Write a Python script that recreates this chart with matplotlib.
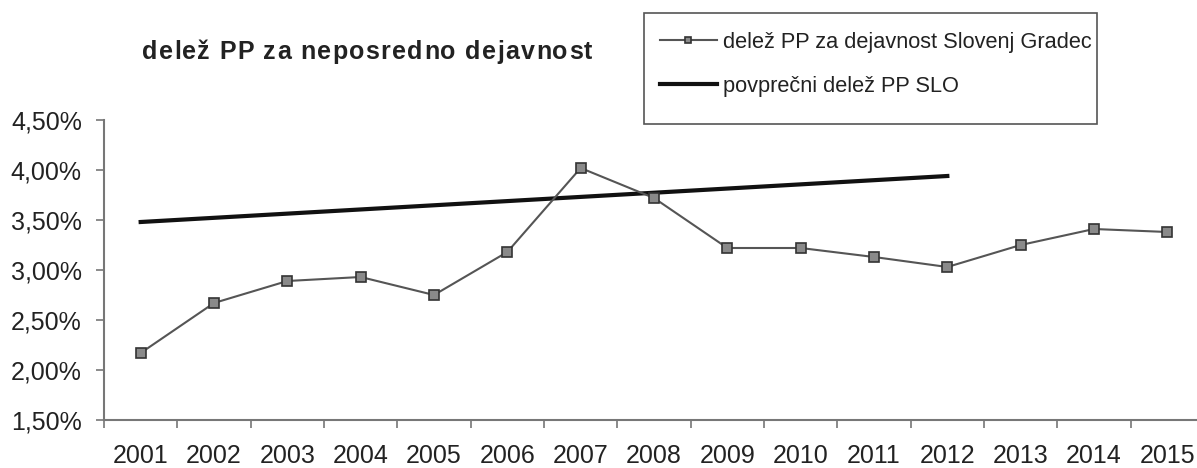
import matplotlib
matplotlib.use("Agg")
import matplotlib.pyplot as plt
from matplotlib.patches import Rectangle
from matplotlib.ticker import FixedLocator, FuncFormatter

years = [2001, 2002, 2003, 2004, 2005, 2006, 2007, 2008, 2009, 2010, 2011, 2012, 2013, 2014, 2015]
sg_values = [2.17, 2.67, 2.89, 2.93, 2.75, 3.18, 4.02, 3.72, 3.22, 3.22, 3.13, 3.03, 3.25, 3.41, 3.38]
avg_years = [2001, 2012]
avg_values = [3.48, 3.94]
y_ticks = [1.5, 2.0, 2.5, 3.0, 3.5, 4.0, 4.5]

title = "delež PP za neposredno dejavnost"
label_sg = "delež PP za dejavnost Slovenj Gradec"
label_avg = "povprečni delež PP SLO"

plt.rcParams['font.family'] = ['Liberation Sans', 'DejaVu Sans']

fig = plt.figure(figsize=(11.97, 4.68), dpi=100)
W, H = 1197, 468
left, right = 104, 1204
top, bottom = 120, 420
ax = fig.add_axes([left / W, 1 - bottom / H, (right - left) / W, (bottom - top) / H])

ax.plot(years, sg_values, color='#555555', lw=1.5, marker='s', markersize=7.2,
        markerfacecolor='#8a8a8a', markeredgecolor='#333333', markeredgewidth=1.2,
        label=label_sg, zorder=3)
ax.plot(avg_years, avg_values, color='#111111', lw=3, label=label_avg, zorder=2)

ax.set_xlim(years[0] - 0.5, years[-1] + 0.5)
ax.set_ylim(1.5, 4.5)
ax.yaxis.set_major_locator(FixedLocator(y_ticks))
ax.yaxis.set_major_formatter(FuncFormatter(lambda v, p: f"{v:.2f}%".replace('.', ',')))
ax.set_xticks(years)
ax.set_xticklabels([str(y) for y in years])
ax.set_xticks([y + 0.5 for y in years[:-1]] + [years[0] - 0.5], minor=True)
ax.tick_params(axis='x', which='major', length=0, labelsize=18, pad=17, colors='#222222')
ax.tick_params(axis='x', which='minor', length=6, width=1.2, color='#777777')
ax.tick_params(axis='y', which='major', length=6, width=1.2, color='#777777', labelsize=18,
               pad=10, labelcolor='#222222')

for s in ['top', 'right']:
    ax.spines[s].set_visible(False)
for s in ['left', 'bottom']:
    ax.spines[s].set_color('#777777')
    ax.spines[s].set_linewidth(1.5)

# Title with slight letter spacing
renderer = fig.canvas.get_renderer()
def text_width(s):
    t = fig.text(0, 0, s + "|", fontsize=18, fontweight='bold')
    w = t.get_window_extent(renderer).width
    t.remove()
    return w
bar_w = text_width("")
spacing = 1.3
x0 = 142
for i, ch in enumerate(title):
    xpos = x0 + (text_width(title[:i]) - bar_w) + i * spacing
    fig.text(xpos / W, 1 - 52 / H, ch, fontsize=18, fontweight='bold', color='#222222',
             va='center', ha='left')

# Legend frame drawn manually, legend entries without frame
fig.patches.append(Rectangle((644 / W, 1 - 124 / H), (1097 - 644) / W, (124 - 13) / H,
                             transform=fig.transFigure, fill=False,
                             edgecolor='#555555', linewidth=1.2))
leg = fig.legend(loc='upper left', bbox_to_anchor=(660 / W, 1 - 32 / H), fontsize=15.7,
                 frameon=False, handlelength=2.6, handletextpad=0.27, labelspacing=1.05,
                 borderpad=0, borderaxespad=0, markerscale=0.6)
for t in leg.get_texts():
    t.set_color('#222222')

fig.savefig("out.png", dpi=100)
